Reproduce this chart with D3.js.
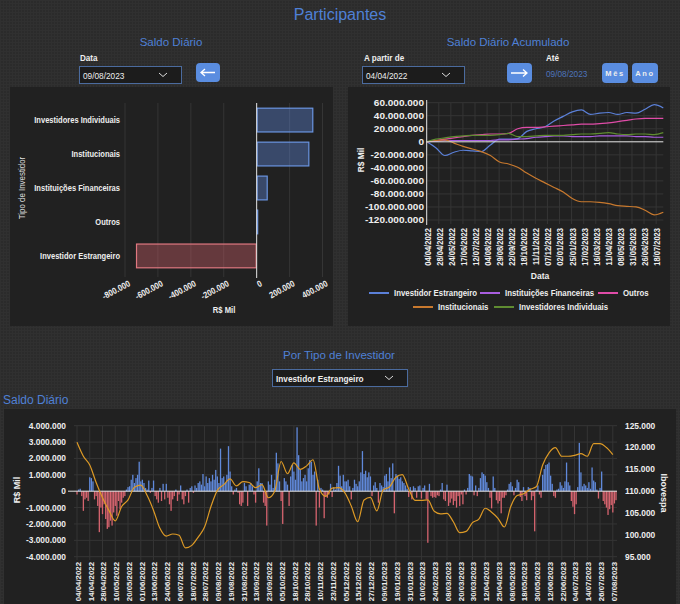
<!DOCTYPE html>
<html>
<head>
<meta charset="utf-8">
<script src="https://cdn.jsdelivr.net/npm/d3@7"></script>
<style>
    body { margin: 0; background: #2b2b2b; }
    svg { display: block; }
</style>
</head>
<body>
<script>
// ---- Saldo diário por tipo de investidor (R$ Mil) ----
const investorTypes = ["Investidores Individuais", "Institucionais", "Instituições Financeiras", "Outros", "Investidor Estrangeiro"];
const dailyBalance = [344000, 320000, 67000, 2000, -733000];
const dailyTicks = [-800000, -600000, -400000, -200000, 0, 200000, 400000];

// ---- Saldo acumulado (milhões de R$ Mil), um ponto a cada 13 pregões ----
const cumulativeNames = ["Investidor Estrangeiro", "Instituições Financeiras", "Outros", "Institucionais", "Investidores Individuais"];
const cumulativeColors = ["#5b80d8", "#a95ee0", "#e04ca8", "#c8792e", "#5f8c31"];
const cumulativeLabels = ["04/04/2022", "28/04/2022", "24/05/2022", "17/06/2022", "12/07/2022", "04/08/2022", "29/08/2022",
    "22/09/2022", "18/10/2022", "11/11/2022", "07/12/2022", "02/01/2023", "25/01/2023", "17/02/2023", "16/03/2023",
    "11/04/2023", "08/05/2023", "31/05/2023", "26/06/2023", "18/07/2023"];
const cumulativeTicks = [60, 40, 20, 0, -20, -40, -60, -80, -100, -120];
const cumEstrangeiro = [0, -9, -21, -16, -13, -14, -15, -5, 4, 4, 5, 16, 20, 23, 32, 39, 46, 49, 42, 44, 45, 42, 45, 44, 50, 57, 52];
const cumFinanceiras = [0, 1, 2, 2, 2, 2, 2, 2, 3, 3, 4, 5, 7, 8, 9, 9, 8, 8, 8, 9, 9, 9, 9, 8, 8, 7, 7];
const cumOutros = [0, 2, 4, 6, 8, 10, 11, 12, 12, 13, 20, 22, 22, 23, 24, 25, 26, 27, 27, 28, 29, 31, 33, 35, 36, 36, 36];
const cumInstitucionais = [0, 2, 3, -2, -7, -11, -15, -21, -31, -34, -39, -48, -56, -63, -70, -77, -87, -92, -92, -93, -95, -98, -99, -100, -105, -112, -108];
const cumIndividuais = [0, 4, 6, 8, 9, 10, 10, 10, 11, 13, 8, 8, 9, 10, 10, 10, 11, 12, 12, 13, 14, 12, 11, 12, 12, 11, 14];

// ---- Investidor Estrangeiro: saldo diário (milhões de R$ Mil) e Ibovespa (mil pontos) ----
const sessionLabels = ["04/04/2022", "14/04/2022", "28/04/2022", "10/05/2022", "20/05/2022", "01/06/2022", "13/06/2022",
    "24/06/2022", "06/07/2022", "18/07/2022", "28/07/2022", "09/08/2022", "19/08/2022", "31/08/2022", "13/09/2022",
    "23/09/2022", "05/10/2022", "18/10/2022", "28/10/2022", "10/11/2022", "23/11/2022", "05/12/2022", "15/12/2022",
    "27/12/2022", "09/01/2023", "19/01/2023", "31/01/2023", "10/02/2023", "24/02/2023", "08/03/2023", "20/03/2023",
    "30/03/2023", "12/04/2023", "25/04/2023", "08/05/2023", "18/05/2023", "30/05/2023", "12/06/2023", "22/06/2023",
    "04/07/2023", "14/07/2023", "26/07/2023", "07/08/2023"];
const foreignBalance = [
    -0.2, 0.1, 0.15, -0.3, -1.2, -0.5, -0.4, -0.6, 0.85, 0.8,
    0.6, -0.5, -0.3, -0.9, -2.5, -1.0, -1.4, -0.8, -1.7, -2.3,
    -2.2, -1.8, -2.1, -1.3, -0.9, -1.5, -0.6, -1.1, -0.7, -0.4,
    -0.3, 0.1, 0.25, 0.3, 0.7, 1.0, 0.5, 0.8, 1.0, 1.8,
    0.6, 0.7, 0.5, 0.2, 0.1, 0.65, -0.1, 0.2, 0.65, -0.3,
    -0.5, -0.7, 0.2, -0.6, 0.45, -0.5, 0.45, -0.4, -0.8, -1.2,
    -0.5, -0.3, 0.1, -0.6, -0.2, 0.35, -0.5, -0.8, -0.3, 0.1,
    -0.7, 0.2, 0.3, -0.1, 0.35, 0.2, 0.5, 0.6, 0.4, 1.05,
    0.3, 0.9, 0.5, 0.8, 0.6, 1.0, 0.7, 1.3, 0.9, 0.5,
    2.6, 0.8, 0.9, 0.5, 1.0, 2.75, 1.2, 0.3, -0.2, 0.1,
    0.2, -0.1, -0.8, -0.9, -0.7, 0.5, 0.3, -0.9, 0.4, 0.5,
    0.3, -0.2, -0.7, 0.6, 1.4, 0.5, 0.5, -0.7, -0.9, -2.1,
    0.6, 0.4, 1.0, 0.2, 0.7, 2.35, 1.7, 0.6, -0.6, -2.0,
    0.8, 0.6, 0.4, -0.9, 0.9, 1.6, 1.2, 0.7, 3.9, 2.2,
    1.3, 0.6, 0.8, 1.0, 0.6, 1.4, 1.9, 1.8, 1.0, 1.2,
    -2.1, 0.7, -1.0, 0.2, 0.1, -1.65, -0.3, -0.4, -0.2, 0.45,
    -0.35, 0.25, 0.1, 0.5, 1.55, 0.95, 0.3, 1.0, 0.6, 0.6,
    0.7, 0.3, -0.5, 0.2, 0.7, 0.45, 0.3, 0.6, 1.15, 2.45,
    1.05, 1.25, 0.85, 1.15, 0.9, -0.3, 0.35, 0.55, 0.2, -0.7,
    0.5, 0.35, 0.25, 0.95, 1.05, 0.6, 1.45, 0.8, 1.7, -1.35,
    1.05, 0.95, 0.75, 0.85, 0.6, 0.5, 0.35, 0.15, -0.35, 0.25,
    -0.5, 0.3, 0.2, -0.4, 0.3, 0.35, -0.45, 0.2, 0.35, -0.5,
    -3.15, 0.45, -0.3, -0.4, -0.35, -0.4, -0.25, -0.3, 0.1, 0.5,
    -0.5, -0.6, 0.4, -0.9, -0.7, -0.45, -0.85, -0.6, -1.0, -0.3,
    -0.9, -0.2, -0.8, 0.1, -0.2, 0.2, 1.05, 0.95, 0.9, -0.25,
    0.35, -0.3, 0.2, 0.8, 1.15, 1.05, 0.95, 0.55, 0.2, -0.4,
    -1.05, 0.9, 0.2, -0.55, -0.75, -0.6, -1.35, -0.4, -0.4, -0.25,
    0.1, 0.45, 0.55, 0.3, -0.25, 0.2, 0.7, 0.55, -0.35, -0.6,
    0.25, -0.3, -0.55, 0.25, 0.2, -0.55, -0.3, -2.45, 0.1, 0.35,
    -0.2, -0.4, 1.0, 1.35, 1.6, 1.65, 1.75, 0.95, 0.45, -0.3,
    -0.4, 0.1, 0.15, 0.55, 0.35, 0.2, 0.6, 1.75, 0.55, 0.35,
    -0.6, -0.95, -1.4, -0.8, 0.25, 2.95, 1.15, 0.3, 0.45, 0.35,
    0.2, 0.55, 0.15, 1.45, 0.65, 0.55, 0.1, -0.45, 0.2, 1.2,
    -0.6, -0.8, -1.0, -1.45, -1.1, -0.85, -1.3, -0.75, -0.55
];
// Ibovespa a cada 4 pregões
const ibovespa = [
    121.2, 118.0, 116.0, 112.0, 108.5, 105.6, 103.2, 106.5, 108.0, 110.9,
    111.4, 109.0, 105.6, 101.5, 99.7, 100.2, 99.9, 97.0, 97.6, 99.5,
    101.8, 106.5, 110.2, 111.5, 112.8, 111.2, 112.2, 112.0, 110.8, 111.5,
    108.5, 110.0, 116.8, 114.0, 116.5, 115.0, 115.8, 117.2, 110.5, 108.8,
    110.7, 110.8, 109.6, 106.6, 103.0, 108.0, 108.6, 105.5, 110.3, 111.0,
    113.2, 113.8, 110.5, 107.9, 107.9, 108.0, 105.4, 104.8, 104.9, 103.0,
    100.5, 100.8, 102.8, 103.6, 106.1, 105.2, 103.8, 101.8, 106.5, 109.0,
    109.4, 110.4, 111.0, 116.0, 118.8, 120.0, 118.0, 118.0, 118.2, 118.6,
    118.0, 120.9, 120.9, 120.0, 118.4
];
const balanceTicks = [4, 3, 2, 1, 0, -1, -2, -3, -4];
const ibovTicks = [125, 120, 115, 110, 105, 100, 95];

const fmt = d3.formatLocale({ decimal: ",", thousands: ".", grouping: [3], currency: ["R$", ""], minus: "-" }).format(",d");

const sans = "'Liberation Sans', Arial, sans-serif";
const titleBlue = "#4f80d6";
const buttonBlue = "#5a8de0";
const gridColor = "#353535";
const axisWhite = "#e2e2e2";

// text is drawn at 0,0 and moved, so it can be squeezed horizontally
const place = (x, y, sx = 1, rot = 0) =>
    `translate(${x},${y})` + (rot ? ` rotate(${rot})` : "") + (sx !== 1 ? ` scale(${sx},1)` : "");

const svg = d3.select("body")
    .append("svg")
    .attr("width", 680)
    .attr("height", 604)
    .attr("font-family", sans);

const texture = svg.append("defs")
    .append("pattern")
    .attr("id", "texture")
    .attr("width", 3)
    .attr("height", 3)
    .attr("patternUnits", "userSpaceOnUse");
texture.append("rect").attr("width", 3).attr("height", 3).attr("fill", "#2b2b2b");
texture.append("path").attr("d", "M0 0.5H3M0.5 0V3").attr("stroke", "#303030").attr("stroke-width", 1);

svg.append("rect").attr("width", 680).attr("height", 604).attr("fill", "url(#texture)");

// panels
[[10, 87, 323, 239], [348, 87, 322, 239], [4, 409, 672, 200]].forEach(([x, y, w, h]) => {
    svg.append("rect")
        .attr("x", x).attr("y", y).attr("width", w).attr("height", h)
        .attr("fill", "#212121");
});

const addText = (txt, x, y, opts = {}) => svg.append("text")
    .text(txt)
    .attr("transform", place(x, y, opts.sx || 1, opts.rotate || 0))
    .attr("text-anchor", opts.anchor || "start")
    .attr("font-size", opts.size || 10)
    .attr("font-weight", opts.weight || "normal")
    .attr("fill", opts.fill || "#eeeeee");

//====================
// header and controls
//====================

addText("Participantes", 340, 20, { anchor: "middle", size: 16, fill: titleBlue });
addText("Saldo Diário", 171, 46, { anchor: "middle", size: 11.5, fill: titleBlue });
addText("Saldo Diário Acumulado", 508, 46, { anchor: "middle", size: 11.5, fill: titleBlue });

const selectBox = (x, y, w, label, bold) => {
    svg.append("rect")
        .attr("x", x + 0.5).attr("y", y + 0.5).attr("width", w).attr("height", 17)
        .attr("fill", "#1c1c1c").attr("stroke", "#4b6b9e");
    addText(label, x + 4, y + 12.5, { size: 9, sx: 0.92, weight: bold ? "bold" : "normal" });
    const cx = x + w - 18;
    svg.append("path")
        .attr("d", `M${cx - 4},${y + 7} L${cx},${y + 10.5} L${cx + 4},${y + 7}`)
        .attr("fill", "none").attr("stroke", "#dddddd").attr("stroke-width", 1);
};

const button = (x, y, w, h) => svg.append("rect")
    .attr("x", x).attr("y", y).attr("width", w).attr("height", h)
    .attr("rx", 4).attr("fill", buttonBlue);

const arrow = (x1, x2, y) => {
    const dir = x2 > x1 ? -1 : 1;
    svg.append("path")
        .attr("d", `M${x1},${y} H${x2} M${x2 + dir * 4},${y - 3.5} L${x2},${y} L${x2 + dir * 4},${y + 3.5}`)
        .attr("fill", "none").attr("stroke", "#ffffff").attr("stroke-width", 1.3);
};

addText("Data", 80, 61, { weight: "bold", size: 9, sx: 0.9 });
selectBox(79, 66, 102, "09/08/2023");
button(196, 63, 24, 19);
arrow(215, 201, 72.5);

addText("A partir de", 364, 61, { weight: "bold", size: 9, sx: 0.9 });
selectBox(362, 66, 102, "04/04/2022");
button(507, 63, 25, 20);
arrow(511, 527, 73);
addText("Até", 546, 61, { weight: "bold", size: 9, sx: 0.9 });
addText("09/08/2023", 546, 77, { size: 9, sx: 0.92, fill: "#4d73bb" });
button(602, 63, 26, 20);
addText("Mês", 615, 76, { anchor: "middle", weight: "bold", size: 7.5 }).attr("letter-spacing", 1.6);
button(632, 63, 26, 20);
addText("Ano", 645, 76, { anchor: "middle", weight: "bold", size: 7.5 }).attr("letter-spacing", 1.6);

addText("Por Tipo de Investidor", 339, 359, { anchor: "middle", size: 11.5, fill: titleBlue });
selectBox(272, 369, 135, "Investidor Estrangeiro", true);
addText("Saldo Diário", 3, 404, { size: 12, fill: titleBlue });

//====================
// Saldo diário (barras horizontais)
//====================

const xDaily = d3.scaleLinear()
    .domain([-800000, 400000])
    .range([125, 322.5]);

const yDaily = d3.scaleBand()
    .domain(investorTypes)
    .range([98, 278])
    .paddingInner(0.3)
    .paddingOuter(0.3);

const daily = svg.append("g");

daily.selectAll(".grid-x")
    .data(dailyTicks)
    .join("line")
        .attr("x1", d => xDaily(d)).attr("x2", d => xDaily(d))
        .attr("y1", 103).attr("y2", 277)
        .attr("stroke", gridColor);

daily.selectAll("rect")
    .data(investorTypes)
    .join("rect")
        .attr("x", (d, i) => xDaily(Math.min(0, dailyBalance[i])) + 0.5)
        .attr("y", d => yDaily(d))
        .attr("width", (d, i) => Math.max(0.5, Math.abs(xDaily(dailyBalance[i]) - xDaily(0)) - 1))
        .attr("height", yDaily.bandwidth())
        .attr("fill", (d, i) => dailyBalance[i] < 0 ? "rgba(214,96,108,0.38)" : "rgba(96,140,225,0.38)")
        .attr("stroke", (d, i) => dailyBalance[i] < 0 ? "#e07880" : "#6a95e2")
        .attr("stroke-width", 1.2);

daily.append("line")
    .attr("x1", xDaily(0)).attr("x2", xDaily(0))
    .attr("y1", 103).attr("y2", 278)
    .attr("stroke", axisWhite);

daily.selectAll(".cat")
    .data(investorTypes)
    .join("text")
        .text(d => d)
        .attr("transform", d => place(120, yDaily(d) + yDaily.bandwidth() / 2, 0.81))
        .attr("dy", "0.35em")
        .attr("text-anchor", "end")
        .attr("font-weight", "bold")
        .attr("font-size", 9.3)
        .attr("fill", "#eeeeee");

daily.selectAll(".tick-x")
    .data(dailyTicks)
    .join("text")
        .text(d => fmt(d))
        .attr("transform", d => place(xDaily(d) + 3, 280, 0.85, -28))
        .attr("dy", "0.7em")
        .attr("text-anchor", "end")
        .attr("font-weight", "bold")
        .attr("font-size", 9)
        .attr("fill", "#eeeeee");

addText("R$ Mil", 224, 313, { anchor: "middle", weight: "bold", size: 9, sx: 0.85 });
addText("Tipo de Investidor", 25, 188, { anchor: "middle", size: 9.3, sx: 0.85, rotate: -90, fill: "#dddddd" });

//====================
// Saldo diário acumulado (linhas)
//====================

const cumulativeSeries = [cumEstrangeiro, cumFinanceiras, cumOutros, cumInstitucionais, cumIndividuais];
const cumulativeStep = 13;
const sessionCount = 338;
const labelEvery = 17.25;

const xCum = d3.scaleLinear()
    .domain([0, sessionCount])
    .range([426.7, 663.3]);

const yCum = d3.scaleLinear()
    .domain([-120, 60])
    .range([220, 102.7]);

const cum = svg.append("g");

cum.selectAll(".grid-y")
    .data(cumulativeTicks)
    .join("line")
        .attr("x1", 426.7).attr("x2", 663.3)
        .attr("y1", d => yCum(d)).attr("y2", d => yCum(d))
        .attr("stroke", gridColor);

cum.selectAll(".grid-x")
    .data(cumulativeLabels)
    .join("line")
        .attr("x1", (d, i) => xCum(i * labelEvery)).attr("x2", (d, i) => xCum(i * labelEvery))
        .attr("y1", 102.7).attr("y2", 224)
        .attr("stroke", gridColor);

const cumLine = d3.line()
    .x((d, i) => xCum(Math.min(i * cumulativeStep, sessionCount)))
    .y(d => yCum(d))
    .curve(d3.curveMonotoneX);

cum.selectAll(".series")
    .data(cumulativeSeries)
    .join("path")
        .attr("d", d => cumLine(d))
        .attr("fill", "none")
        .attr("stroke", (d, i) => cumulativeColors[i])
        .attr("stroke-width", 1.2);

cum.append("line")
    .attr("x1", 426.7).attr("x2", 663.3)
    .attr("y1", yCum(0)).attr("y2", yCum(0))
    .attr("stroke", axisWhite);

cum.append("line")
    .attr("x1", 426.7).attr("x2", 426.7)
    .attr("y1", 100).attr("y2", 225)
    .attr("stroke", axisWhite);

cum.selectAll(".tick-y")
    .data(cumulativeTicks)
    .join("text")
        .text(d => fmt(d * 1e6))
        .attr("transform", d => place(424, yCum(d), 1.08))
        .attr("dy", "0.35em")
        .attr("text-anchor", "end")
        .attr("font-weight", "bold")
        .attr("font-size", 9.3)
        .attr("fill", "#eeeeee");

cum.selectAll(".tick-x")
    .data(cumulativeLabels)
    .join("text")
        .text(d => d)
        .attr("transform", (d, i) => place(xCum(i * labelEvery) + 1, 228, 0.9, -90))
        .attr("dy", "0.35em")
        .attr("text-anchor", "end")
        .attr("font-weight", "bold")
        .attr("font-size", 8.4)
        .attr("fill", "#eeeeee");

addText("Data", 540, 279, { anchor: "middle", weight: "bold", size: 9.5, sx: 0.9 });
addText("R$ Mil", 364, 160, { anchor: "middle", weight: "bold", size: 9.3, sx: 0.9, rotate: -90 });

// legend
const legendRows = [
    { y: 293, items: [[0, 369], [1, 480], [2, 598]] },
    { y: 307, items: [[3, 413], [4, 494]] }
];
legendRows.forEach(row => {
    row.items.forEach(([k, x]) => {
        cum.append("line")
            .attr("x1", x).attr("x2", x + 20)
            .attr("y1", row.y).attr("y2", row.y)
            .attr("stroke", cumulativeColors[k])
            .attr("stroke-width", 2);
        cum.append("text")
            .text(cumulativeNames[k])
            .attr("transform", place(x + 25, row.y, 0.91))
            .attr("dy", "0.35em")
            .attr("font-weight", "bold")
            .attr("font-size", 8.6)
            .attr("fill", "#eeeeee");
    });
});

//====================
// Investidor Estrangeiro x Ibovespa
//====================

const labelStep = 8;
const ibovStep = 4;

const xSession = d3.scaleLinear()
    .domain([0, sessionCount])
    .range([77, 616]);

const yBalance = d3.scaleLinear()
    .domain([-4, 4])
    .range([556.7, 425.7]);

const yIbov = d3.scaleLinear()
    .domain([95, 125])
    .range([556.7, 425.7]);

const bottom = svg.append("g");

bottom.selectAll(".grid-y")
    .data(balanceTicks)
    .join("line")
        .attr("x1", 74).attr("x2", 617)
        .attr("y1", d => yBalance(d)).attr("y2", d => yBalance(d))
        .attr("stroke", gridColor);

bottom.selectAll(".grid-x")
    .data(sessionLabels)
    .join("line")
        .attr("x1", (d, i) => xSession(i * labelStep)).attr("x2", (d, i) => xSession(i * labelStep))
        .attr("y1", 425.7).attr("y2", 560)
        .attr("stroke", gridColor);

bottom.selectAll(".bar")
    .data(foreignBalance)
    .join("rect")
        .attr("x", (d, i) => xSession(i) - 0.65)
        .attr("y", d => yBalance(Math.max(0, d)))
        .attr("width", 1.3)
        .attr("height", d => Math.abs(yBalance(d) - yBalance(0)))
        .attr("fill", d => d < 0 ? "#d6646f" : "#6089da");

bottom.append("line")
    .attr("x1", 68).attr("x2", 617)
    .attr("y1", yBalance(0)).attr("y2", yBalance(0))
    .attr("stroke", axisWhite);

const ibovLine = d3.line()
    .x((d, i) => xSession(i * ibovStep))
    .y(d => yIbov(d))
    .curve(d3.curveMonotoneX);

bottom.append("path")
    .attr("d", ibovLine(ibovespa))
    .attr("fill", "none")
    .attr("stroke", "#dd9a26")
    .attr("stroke-width", 1.2);

bottom.selectAll(".tick-left")
    .data(balanceTicks)
    .join("text")
        .text(d => fmt(d * 1e6))
        .attr("transform", d => place(66, yBalance(d)))
        .attr("dy", "0.35em")
        .attr("text-anchor", "end")
        .attr("font-weight", "bold")
        .attr("font-size", 8.4)
        .attr("fill", "#eeeeee");

bottom.selectAll(".tick-right")
    .data(ibovTicks)
    .join("text")
        .text(d => fmt(d * 1000))
        .attr("transform", d => place(625, yIbov(d)))
        .attr("dy", "0.35em")
        .attr("font-weight", "bold")
        .attr("font-size", 8.4)
        .attr("fill", "#eeeeee");

bottom.selectAll(".tick-x")
    .data(sessionLabels)
    .join("text")
        .text(d => d)
        .attr("transform", (d, i) => place(xSession(i * labelStep) + 1, 562, 0.98, -90))
        .attr("dy", "0.35em")
        .attr("text-anchor", "end")
        .attr("font-weight", "bold")
        .attr("font-size", 8)
        .attr("fill", "#eeeeee");

addText("R$ Mil", 20, 490, { anchor: "middle", weight: "bold", size: 9, rotate: -90 });
addText("Ibovespa", 661, 493, { anchor: "middle", weight: "bold", size: 9, rotate: 90 });
</script>
</body>
</html>
